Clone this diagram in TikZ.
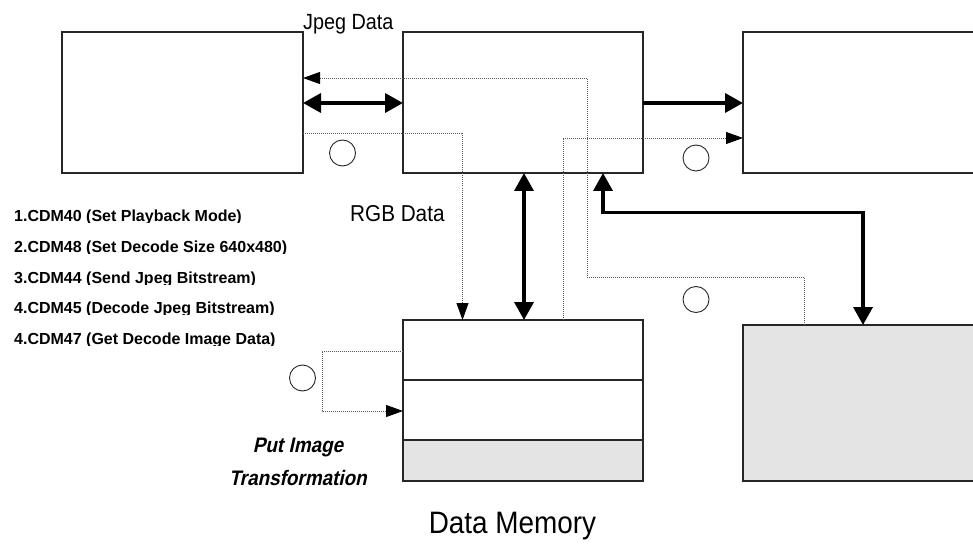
\documentclass[tikz,border=0pt]{standalone}
\usepackage{fontspec}
\setmainfont{Liberation Sans}
\newfontfamily\narrowfont[FakeStretch=0.9]{Liberation Sans}
\newfontfamily\slantfont[FakeStretch=0.9, FakeSlant=0.22]{Liberation Sans}
\usetikzlibrary{arrows.meta}
\definecolor{memgray}{RGB}{228,228,228}

\begin{document}
\begin{tikzpicture}[x=1pt,y=-1pt,
  box/.style={draw=black!85, line width=1.1pt, inner sep=0pt, outer sep=0pt, rectangle},
  ring/.style={draw=black!85, line width=0.9pt, circle, minimum size=26pt, inner sep=0pt},
  fatarrow/.style={line width=3.6pt, -{Triangle[length=18pt,width=19pt]}},
  fatboth/.style={line width=3.6pt, {Triangle[length=18pt,width=19pt]}-{Triangle[length=18pt,width=19pt]}},
  dotline/.style={line width=0.9pt, black!65, dash pattern=on 1pt off 1pt},
  dotarrow/.style={dotline, -{Triangle[length=17pt,width=12pt,color=black]}},
  caption/.style={inner sep=0pt, anchor=base west},
]
\useasboundingbox (0,0) rectangle (973,553);
\clip (0,0) rectangle (973,553);

% shaded band at the bottom of the memory block
\fill[memgray] (403,440) rectangle (643,481);

% blocks
\node[box, minimum width=241pt, minimum height=141pt] (A) at (182.5,102.5) {};
\node[box, minimum width=240pt, minimum height=141pt] (B) at (523,102.5) {};
\node[box, minimum width=247pt, minimum height=141pt] (C) at (866.5,102.5) {};
\node[box, minimum width=240pt, minimum height=161pt] (D) at (523,400.5) {};
\node[box, fill=memgray, minimum width=247pt, minimum height=156pt] (E) at (866.5,403) {};
\draw[draw=black!85, line width=1.1pt] (D.west |- 0,380) -- (D.east |- 0,380);
\draw[draw=black!85, line width=1.1pt] (D.west |- 0,440) -- (D.east |- 0,440);

% step markers
\node[ring] (r1) at (342.5,153) {};
\node[ring] (r2) at (696,158) {};
\node[ring] (r3) at (696,299.5) {};
\node[ring] (r4) at (302.5,378) {};

% data paths
\draw[dotarrow] (E.north -| 804,0) |- (587,277) |- (A.east |- 0,78);
\draw[fatboth] (A.east |- 0,103) -- (B.west |- 0,103);
\draw[dotarrow] (A.east |- 0,133) -| (D.north -| 462.5,0);
\draw[dotarrow] (D.north -| 563,0) |- (C.west |- 0,138);
\draw[fatboth] (B.south -| 524,0) -- (D.north -| 524,0);
\draw[fatarrow] (B.east |- 0,103) -- (C.west |- 0,103);
\draw[fatboth] (B.south -| 603,0) |- (863,212.5) -- (E.north -| 863,0);
\draw[dotarrow] (D.west |- 0,351) -- (322,351) -- (322,411) -- (D.west |- 0,411);

% labels
\node[caption, font=\narrowfont\fontsize{22}{26}\selectfont] (jpeg) at (303,30) {Jpeg Data};
\node[caption, font=\narrowfont\fontsize{23}{27}\selectfont] (rgb) at (350,222) {RGB Data};
\node[inner sep=0pt, anchor=base, font=\narrowfont\fontsize{31}{36}\selectfont] (mem) at (512.5,533) {Data Memory};
\node[inner sep=0pt, anchor=base, font=\slantfont\bfseries\fontsize{21}{25}\selectfont] (put1) at (298,452) {Put Image};
\node[inner sep=0pt, anchor=base, font=\slantfont\bfseries\fontsize{21}{25}\selectfont] (put2) at (298,485) {Transformation};

% command list, each line cut just under its baseline
\begin{scope}
  \clip (0,205)   rectangle (400,223)
        (0,235.5) rectangle (400,253.5)
        (0,266)   rectangle (400,284)
        (0,296.5) rectangle (400,314.5)
        (0,327)   rectangle (400,345);
  \begin{scope}[every node/.style={caption, font=\bfseries\fontsize{16}{19}\selectfont}]
    \node (c1) at (14,222)   {1.CDM40 (Set Playback Mode)};
    \node (c2) at (14,252.5) {2.CDM48 (Set Decode Size 640x480)};
    \node (c3) at (14,283)   {3.CDM44 (Send Jpeg Bitstream)};
    \node (c4) at (14,313.5) {4.CDM45 (Decode Jpeg Bitstream)};
    \node (c5) at (14,344)   {4.CDM47 (Get Decode Image Data)};
  \end{scope}
\end{scope}
\end{tikzpicture}
\end{document}
